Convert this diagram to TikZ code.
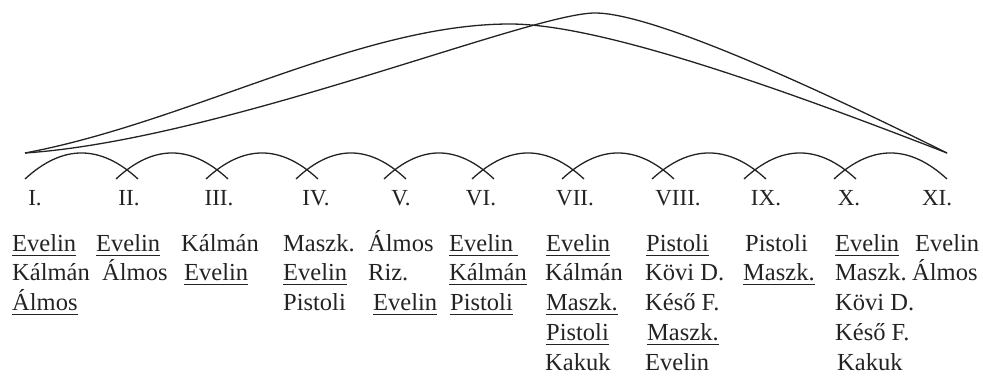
\documentclass[tikz,border=0pt]{standalone}
\usepackage{fontspec}
\setmainfont{Liberation Serif}
\usetikzlibrary{calc}
\definecolor{ink}{RGB}{35,35,35}
% underlined word: rule 4pt..5.3pt below the baseline
\newcommand\ulword[1]{\setbox0\hbox{#1}\rlap{\vrule height -4pt depth 5.3pt width \wd0}\box0}
\tikzset{
  word/.style={anchor=base west, inner sep=0pt, text=ink, font=\fontsize{24.5}{30}\selectfont},
  numeral/.style={anchor=base, inner sep=0pt, text=ink, font=\fontsize{23}{30}\selectfont},
  arcline/.style={draw=ink, line width=1.3pt},
  bigline/.style={draw=ink, line width=1.3pt},
}
\begin{document}
\begin{tikzpicture}[x=1pt, y=-1pt]
\useasboundingbox (0,0) rectangle (983,375);

% chain of small arcs between neighbouring acts
\foreach \a/\b [count=\k from 0] in {36/127,127/217,217/307,307/395,395/483,483/573,573/663,663/755,755/845,845/936} {
  \pgfmathsetmacro\sx{\a-11}
  \pgfmathsetmacro\ex{\b+11}
  \pgfmathsetmacro\cx{\sx+(\ex-\sx)/3}
  \pgfmathsetmacro\dx{\ex-(\ex-\sx)/3}
  \coordinate (s\k) at (\sx,179);
  \coordinate (e\k) at (\ex,179);
  \draw[arcline] (s\k) .. controls (\cx,144.3) and (\dx,144.3) .. (e\k);
}

% two long arcs spanning the whole play
\coordinate (L) at (25,153);
\coordinate (R) at (947,153);
\coordinate (topA) at (510,24);
\coordinate (topB) at (595,13);
\draw[bigline] (L) .. controls (190,122) and (360,24) .. (topA)
                   .. controls (600,24) and (780,88) .. (R);
\draw[bigline] (L) .. controls (220,140) and (530,13) .. (topB)
                   .. controls (650,13) and (800,80) .. (R);

% act numerals
\foreach \t/\x [count=\i] in {I./35,II./129,III./219,IV./316,V./401,VI./481,VII./575,VIII./678,IX./766,X./849,XI./937}
  \node[numeral] (n\i) at (\x,205) {\t};

% characters on stage in each act
\node[word] (a1) at (12,251) {\ulword{Evelin}};
\node[word] (a2) at (12,280) {Kálmán};
\node[word] (a3) at (12,310) {\ulword{Álmos}};

\node[word] (b1) at (96,251) {\ulword{Evelin}};
\node[word] (b2) at (102,280) {Álmos};

\node[word] (c1) at (181,251) {Kálmán};
\node[word] (c2) at (184,280) {\ulword{Evelin}};

\node[word] (d1) at (283,251) {Maszk.};
\node[word] (d2) at (283,280) {\ulword{Evelin}};
\node[word] (d3) at (283,310) {Pistoli};

\node[word] (e1) at (368,251) {Álmos};
\node[word] (e2) at (368,280) {Riz.};
\node[word] (e3) at (373,310) {\ulword{Evelin}};

\node[word] (f1) at (449,251) {\ulword{Evelin\kern5pt}};
\node[word] (f2) at (449,280) {\ulword{Kálmán}};
\node[word] (f3) at (450,310) {\ulword{Pistoli}};

\node[word] (g1) at (546,251) {\ulword{Evelin}};
\node[word] (g2) at (545,280) {Kálmán};
\node[word] (g3) at (546,310) {\ulword{Maszk.}};
\node[word] (g4) at (546,340) {\ulword{Pistoli}};
\node[word] (g5) at (545,370) {Kakuk};

\node[word] (h1) at (646,251) {\ulword{Pistoli}};
\node[word] (h2) at (645,280) {Kövi D.};
\node[word] (h3) at (645,310) {Késő F.};
\node[word] (h4) at (647,340) {\ulword{Maszk.}};
\node[word] (h5) at (645,370) {Evelin};

\node[word] (i1) at (745,251) {Pistoli};
\node[word] (i2) at (743,280) {\ulword{Maszk.}};

\node[word] (j1) at (835,251) {\ulword{Evelin}};
\node[word] (j2) at (835,280) {Maszk.};
\node[word] (j3) at (835,310) {Kövi D.};
\node[word] (j4) at (835,340) {Késő F.};
\node[word] (j5) at (837,370) {Kakuk};

\node[word] (k1) at (915,251) {Evelin};
\node[word] (k2) at (912,280) {Álmos};
\end{tikzpicture}
\end{document}
